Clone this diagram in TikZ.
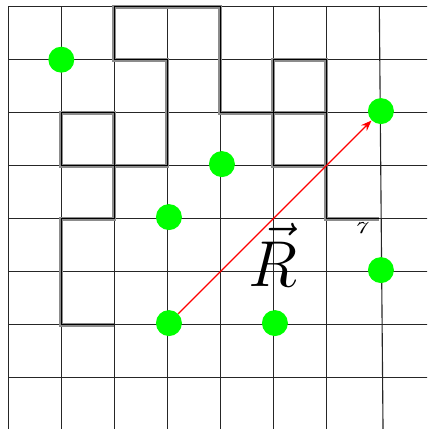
\documentclass[tikz,border=0pt]{standalone}
\usetikzlibrary{arrows.meta}
\begin{document}
\begin{tikzpicture}[
    gridline/.style={line width=0.6pt, black!85},
    wall/.style={draw=black!45, line width=2pt, line join=miter,
      postaction={draw=black, line width=0.5pt}},
    site/.style={circle, fill=green, minimum size=0.49cm, inner sep=0pt},
    vec/.style={-Stealth, red, line width=0.6pt},
  ]
  \useasboundingbox (-0.157,0.032) rectangle (7.9,8.126);
  \clip (-0.157,0.032) rectangle (7.9,8.126);
  % Gitter
  \foreach \i in {1,...,8}
    \draw[gridline] (0,\i) -- (8.2,\i);
  \foreach \i in {0,...,6}
    \draw[gridline] (\i,8) -- (\i,-0.2);
  \draw[gridline] (7,8) -- (7.07,0);
  % Domaenenwaende
  \draw[wall] (2,2) -- (1,2) -- (1,4) -- (2,4) -- (2,6) -- (1,6) -- (1,5)
    -- (3,5) -- (3,7) -- (2,7) -- (2,8) -- (4,8) -- (4,6) -- (6,6)
    -- (6,7) -- (5,7) -- (5,5) -- (6,5);
  \draw[wall] (6,6) -- (6,4) -- (7,4);
  % Teilchen
  \node[site] (p1) at (1,7) {};
  \node[site] (p2) at (4.03,5.03) {};
  \node[site] (p3) at (3.03,4.03) {};
  \node[site] (p4) at (7.03,6.03) {};
  \node[site] (p5) at (7.03,3.03) {};
  \node[site] (p6) at (3.03,2.03) {};
  \node[site] (p7) at (5.03,2.03) {};
  \draw[vec] (p6) -- (p4);
  \node[inner sep=0pt, scale=1.4] (R) at (5.0,3.32) {\Huge $\vec{R}$};
  \node[font=\small, xscale=1.4, inner sep=0pt] (mark) at (6.66,3.83) {\textit{7}};
\end{tikzpicture}
\end{document}
